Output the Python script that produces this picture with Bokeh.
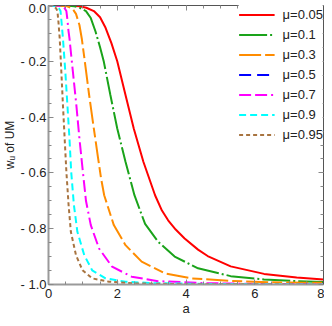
import numpy as np
from bokeh.plotting import figure
from bokeh.models import Range1d, LinearAxis, FixedTicker, Legend, LegendItem, CustomJSTickFormatter
from bokeh.embed import file_html
from bokeh.resources import INLINE

# ---- data ----
a_005 = [0, 0.6, 0.9, 1.1, 1.32, 1.5, 1.66, 1.83, 2.0, 2.24, 2.48, 2.76, 3.1, 3.3, 3.48, 3.7, 3.96, 4.35, 4.63, 5.3, 6.27, 7.22, 8]
w_005 = [0, 0, -0.003, -0.008, -0.02, -0.042, -0.08, -0.135, -0.2, -0.321, -0.441, -0.56, -0.68, -0.735, -0.77, -0.803, -0.835, -0.875, -0.898, -0.935, -0.962, -0.975, -0.982]

a_01 = [0, 0.5, 0.75, 0.9, 1.09, 1.23, 1.37, 1.5, 1.61, 1.8, 2.0, 2.24, 2.5, 2.81, 3.19, 3.67, 4.35, 5.3, 6.27, 7.2, 8]
w_01 = [0, 0, -0.003, -0.008, -0.02, -0.045, -0.094, -0.15, -0.202, -0.321, -0.441, -0.56, -0.68, -0.783, -0.847, -0.9, -0.942, -0.97, -0.982, -0.988, -0.991]

a_03 = [0, 0.35, 0.55, 0.7, 0.8, 0.9, 0.97, 1.04, 1.17, 1.3, 1.44, 1.53, 1.62, 1.9, 2.24, 2.71, 3.39, 4.15, 5.3, 6.5, 8]
w_03 = [0, 0, -0.003, -0.012, -0.03, -0.07, -0.12, -0.185, -0.31, -0.425, -0.545, -0.62, -0.68, -0.787, -0.859, -0.918, -0.96, -0.978, -0.987, -0.992, -0.994]

# the mu=0.5 curve is not visible in the reference (legend entry only)
a_05 = [np.nan]
w_05 = [np.nan]

a_07 = [0, 0.25, 0.38, 0.46, 0.52, 0.55, 0.58, 0.61, 0.71, 0.81, 0.9, 1.0, 1.09, 1.23, 1.47, 1.85, 2.42, 3.19, 4.5, 6, 8]
w_07 = [0, 0, -0.003, -0.008, -0.02, -0.05, -0.09, -0.118, -0.238, -0.357, -0.477, -0.596, -0.7, -0.787, -0.871, -0.936, -0.972, -0.988, -0.995, -0.998, -0.999]

a_09 = [0, 0.12, 0.22, 0.3, 0.35, 0.38, 0.42, 0.49, 0.55, 0.61, 0.66, 0.74, 0.84, 1.04, 1.27, 1.66, 2.24, 3, 4.5, 8]
w_09 = [0, 0, -0.003, -0.01, -0.02, -0.06, -0.118, -0.238, -0.357, -0.477, -0.596, -0.716, -0.811, -0.895, -0.949, -0.978, -0.99, -0.995, -0.998, -1.0]

a_095 = [0, 0.08, 0.15, 0.22, 0.26, 0.29, 0.326, 0.374, 0.42, 0.47, 0.52, 0.585, 0.65, 0.8, 0.99, 1.27, 1.76, 2.5, 4, 8]
w_095 = [0, 0, -0.003, -0.01, -0.02, -0.06, -0.118, -0.238, -0.357, -0.477, -0.596, -0.716, -0.811, -0.895, -0.949, -0.978, -0.99, -0.996, -0.999, -1.0]

labels = ["μ=0.05", "μ=0.1", "μ=0.3", "μ=0.5", "μ=0.7", "μ=0.9", "μ=0.95"]
x_ticks = [0, 2, 4, 6, 8]
y_ticks = [-1.0, -0.8, -0.6, -0.4, -0.2, 0.0]

series = [(a_005, w_005), (a_01, w_01), (a_03, w_03), (a_05, w_05), (a_07, w_07), (a_09, w_09), (a_095, w_095)]
colors = ["#ff0000", "#1aa31a", "#ff8c00", "#0000ff", "#ff00ff", "#00ffff", "#a87440"]
dashes = ["solid", "28 3 2 3", "22 4 10 4", "12 6", "12 4 12 4 2 4", "7 4", "4 3"]

FONT = "Liberation Sans"

p = figure(width=324, height=318, x_range=Range1d(0, 8), y_range=Range1d(-1, 0),
           output_backend="svg", toolbar_location=None,
           min_border_left=42, min_border_right=1, min_border_top=5, min_border_bottom=34,
           x_axis_label="a", y_axis_label="wᵤ of UM")
p.xgrid.visible = False
p.ygrid.visible = False
p.outline_line_color = None
p.background_fill_color = "white"

items = []
for (xs, ys), lab, c, d in zip(series, labels, colors, dashes):
    r = p.line(xs, ys, line_color=c, line_width=2, line_dash=d)
    items.append(LegendItem(label=lab, renderers=[r]))

fmt = CustomJSTickFormatter(code="return tick == 0 ? '0.0' : '- ' + Math.abs(tick).toFixed(1);")
xfmt = CustomJSTickFormatter(code="return tick.toFixed(0);")
blank = CustomJSTickFormatter(code="return '';")

def style(ax, ticker, formatter, line_color, lw):
    ax.ticker = ticker
    ax.formatter = formatter
    ax.major_tick_in = 5
    ax.major_tick_out = 0
    ax.minor_tick_in = 3
    ax.minor_tick_out = 0
    ax.major_tick_line_color = "#888888"
    ax.minor_tick_line_color = "#888888"
    ax.axis_line_color = line_color
    ax.axis_line_width = lw
    ax.major_label_text_font = FONT
    ax.major_label_text_font_size = "13px"
    ax.major_label_text_color = "#222222"
    ax.axis_label_text_font = FONT
    ax.axis_label_text_font_style = "normal"
    ax.axis_label_text_color = "#222222"

xminor = [i * 0.5 for i in range(17)]
yminor = [-1 + i * 0.05 for i in range(21)]

style(p.xaxis[0], FixedTicker(ticks=x_ticks, minor_ticks=xminor), xfmt, "#9a9a9a", 2)
style(p.yaxis[0], FixedTicker(ticks=y_ticks, minor_ticks=yminor), fmt, "#9a9a9a", 2)
p.xaxis[0].major_label_standoff = 4
p.xaxis[0].axis_label_standoff = 0
p.xaxis[0].axis_label_text_font_size = "13px"
p.yaxis[0].major_label_standoff = 2
p.yaxis[0].axis_label_standoff = 0
p.yaxis[0].axis_label_text_font_size = "12px"

top = LinearAxis()
right = LinearAxis()
style(top, FixedTicker(ticks=x_ticks, minor_ticks=xminor), blank, "#555555", 1)
style(right, FixedTicker(ticks=y_ticks, minor_ticks=yminor), blank, "#555555", 1)
for ax in (top, right):
    ax.major_label_standoff = 0
p.add_layout(top, "above")
p.add_layout(right, "right")

leg = Legend(items=items, location="top_right")
leg.label_text_font = FONT
leg.label_text_font_size = "13px"
leg.label_text_color = "#222222"
leg.glyph_width = 36
leg.glyph_height = 19
leg.spacing = 1
leg.label_standoff = 8
leg.padding = 0
leg.margin = 0
leg.border_line_color = None
leg.background_fill_alpha = 1.0
p.add_layout(leg)

open("out.html", "w").write(file_html(p, INLINE))
